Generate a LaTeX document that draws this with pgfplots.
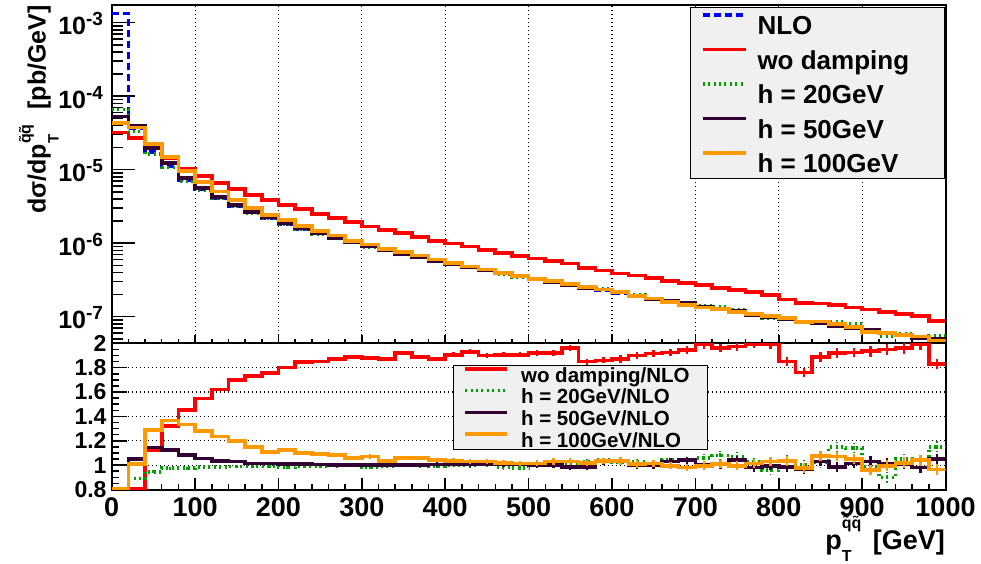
\documentclass[border=0pt]{standalone}
\usepackage{fontspec}
\setmainfont{Liberation Sans}
\usepackage{pgfplots}
\pgfplotsset{compat=1.18}
\usepackage{pgfplotstable}
\definecolor{rootred}{RGB}{255,0,0}
\definecolor{rootblue}{RGB}{0,0,255}
\definecolor{rootgreen}{RGB}{0,160,0}
\definecolor{rootpurple}{RGB}{51,0,51}
\definecolor{rootorange}{RGB}{255,153,0}
\definecolor{legbg}{RGB}{240,240,240}
\newcommand{\fs}[1]{\fontsize{#1}{#1}\selectfont\bfseries}
\newcommand{\ylog}[1]{10\raisebox{9pt}{\fs{19}-#1}}

\pgfplotstableread{
x nlo wo h20 h50 h100
0 1.34e-3 3.2e-5 6.6e-5 5.3e-5 4.3e-5
20 3.7e-5 2.7e-5 3.29e-5 3.9e-5 3.74e-5
40 1.74e-5 1.949e-5 1.644e-5 1.992e-5 2.245e-5
60 1.1e-5 1.452e-5 1.073e-5 1.238e-5 1.502e-5
80 7.15e-6 1.040e-5 6.97e-6 7.76e-6 9.55e-6
100 5.35e-6 8.28e-6 5.27e-6 5.64e-6 6.85e-6
120 4.1e-6 6.64e-6 4.04e-6 4.24e-6 5.06e-6
140 3.2e-6 5.44e-6 3.17e-6 3.30e-6 3.84e-6
160 2.62e-6 4.53e-6 2.59e-6 2.66e-6 3.01e-6
180 2.2e-6 3.86e-6 2.18e-6 2.23e-6 2.44e-6
200 1.83e-6 3.29e-6 1.80e-6 1.848e-6 2.06e-6
220 1.57e-6 2.90e-6 1.554e-6 1.586e-6 1.727e-6
240 1.35e-6 2.50e-6 1.337e-6 1.357e-6 1.472e-6
260 1.17e-6 2.19e-6 1.164e-6 1.17e-6 1.269e-6
280 1.02e-6 1.93e-6 1.02e-6 1.02e-6 1.081e-6
300 9.0e-7 1.69e-6 8.87e-7 9.0e-7 9.63e-7
320 8.0e-7 1.50e-6 7.92e-7 8.0e-7 8.28e-7
340 7.15e-7 1.373e-6 7.15e-7 7.15e-7 7.58e-7
360 6.4e-7 1.210e-6 6.37e-7 6.4e-7 6.78e-7
380 5.75e-7 1.075e-6 5.69e-7 5.78e-7 5.98e-7
400 5.2e-7 9.91e-7 5.2e-7 5.25e-7 5.38e-7
420 4.7e-7 9.07e-7 4.68e-7 4.72e-7 4.84e-7
440 4.25e-7 8.08e-7 4.27e-7 4.29e-7 4.38e-7
460 3.85e-7 7.33e-7 3.77e-7 3.87e-7 3.93e-7
480 3.52e-7 6.71e-7 3.43e-7 3.56e-7 3.57e-7
500 3.23e-7 6.20e-7 3.23e-7 3.23e-7 3.28e-7
520 2.96e-7 5.68e-7 3.00e-7 2.96e-7 3.05e-7
540 2.71e-7 5.31e-7 2.71e-7 2.67e-7 2.79e-7
560 2.48e-7 4.59e-7 2.55e-7 2.44e-7 2.53e-7
580 2.28e-7 4.24e-7 2.38e-7 2.35e-7 2.36e-7
600 2.08e-7 3.89e-7 2.13e-7 2.14e-7 2.15e-7
620 1.91e-7 3.63e-7 1.97e-7 1.91e-7 1.93e-7
640 1.75e-7 3.35e-7 1.75e-7 1.75e-7 1.776e-7
660 1.60e-7 3.08e-7 1.672e-7 1.648e-7 1.592e-7
680 1.47e-7 2.86e-7 1.536e-7 1.529e-7 1.441e-7
700 1.35e-7 2.69e-7 1.431e-7 1.35e-7 1.343e-7
720 1.25e-7 2.45e-7 1.35e-7 1.256e-7 1.263e-7
740 1.16e-7 2.29e-7 1.241e-7 1.206e-7 1.154e-7
760 1.08e-7 2.15e-7 1.107e-7 1.058e-7 1.096e-7
780 1.00e-7 1.99e-7 9.6e-8 9.95e-8 1.03e-7
800 9.33e-8 1.726e-7 9.70e-8 9.19e-8 9.66e-8
820 8.67e-8 1.526e-7 8.67e-8 8.37e-8 8.45e-8
840 8.05e-8 1.521e-7 8.21e-8 8.29e-8 8.65e-8
860 7.48e-8 1.436e-7 8.60e-8 7.37e-8 8.00e-8
880 6.95e-8 1.338e-7 7.92e-8 7.05e-8 7.30e-8
900 6.46e-8 1.250e-7 6.36e-8 6.65e-8 6.20e-8
920 6.0e-8 1.170e-7 5.4e-8 6.09e-8 5.97e-8
940 5.57e-8 1.092e-7 5.85e-8 5.63e-8 5.68e-8
960 5.18e-8 1.031e-7 5.39e-8 5.08e-8 5.39e-8
980 4.81e-8 8.80e-8 5.53e-8 5.05e-8 4.64e-8
1000 4.81e-8 8.80e-8 5.53e-8 5.05e-8 4.64e-8
}\upper

\pgfplotstableread{
x wo h20 h50 h100 e
0 0.805 0.803 0.803 0.805 0
20 0.805 0.89 1.05 1.01 0
40 1.12 0.945 1.145 1.29 0.012
60 1.32 0.975 1.125 1.365 0.012
80 1.455 0.975 1.085 1.335 0.012
100 1.547 0.985 1.055 1.28 0.012
120 1.62 0.985 1.035 1.235 0.012
140 1.70 0.99 1.03 1.20 0.012
160 1.73 0.99 1.015 1.15 0.012
180 1.755 0.99 1.015 1.11 0.012
200 1.80 0.985 1.01 1.125 0.015
220 1.845 0.99 1.01 1.10 0.015
240 1.85 0.99 1.005 1.09 0.015
260 1.87 0.995 1.0 1.085 0.015
280 1.89 1.0 1.0 1.06 0.015
300 1.88 0.985 1.0 1.07 0.018
320 1.87 0.99 1.0 1.035 0.018
340 1.92 1.0 1.0 1.06 0.018
360 1.89 0.995 1.0 1.06 0.018
380 1.87 0.99 1.005 1.04 0.018
400 1.905 1.0 1.01 1.035 0.02
420 1.93 0.995 1.005 1.03 0.02
440 1.90 1.005 1.01 1.03 0.02
460 1.905 0.98 1.005 1.02 0.02
480 1.905 0.975 1.01 1.015 0.02
500 1.92 1.0 1.0 1.015 0.025
520 1.92 1.015 1.0 1.03 0.025
540 1.96 1.0 0.985 1.03 0.025
560 1.85 1.03 0.985 1.02 0.025
580 1.86 1.045 1.03 1.035 0.025
600 1.87 1.025 1.03 1.035 0.03
620 1.90 1.03 1.0 1.01 0.03
640 1.915 1.0 1.0 1.015 0.03
660 1.925 1.045 1.03 0.995 0.03
680 1.945 1.045 1.04 0.98 0.03
700 1.99 1.06 1.0 0.995 0.035
720 1.96 1.08 1.005 1.01 0.035
740 1.975 1.07 1.04 0.995 0.035
760 1.995 1.025 0.98 1.015 0.035
780 1.99 0.96 0.995 1.03 0.035
800 1.85 1.04 0.985 1.035 0.04
820 1.76 1.0 0.965 0.975 0.04
840 1.89 1.02 1.03 1.075 0.04
860 1.92 1.15 0.985 1.07 0.04
880 1.925 1.14 1.015 1.05 0.04
900 1.935 0.985 1.03 0.96 0.045
920 1.95 0.90 1.015 0.995 0.045
940 1.96 1.05 1.01 1.02 0.045
960 1.99 1.04 0.98 1.04 0.045
980 1.83 1.15 1.05 0.965 0.045
1000 1.83 1.15 1.05 0.965 0.045
}\ratio

\begin{document}
\begin{tikzpicture}
\useasboundingbox (0pt,0pt) rectangle (981pt,563pt);
% ---------------- upper panel ----------------
\begin{axis}[
  at={(111.7pt,219.7pt)}, anchor=south west, scale only axis,
  width=833.8pt, height=338.3pt,
  xmin=0, xmax=1000, ymode=log, ymin=4.35e-8, ymax=1.74e-3,
  tick pos=left, tick align=inside,
  xtick={0,100,...,1000}, xticklabels={}, minor x tick num=4,
  ytick={1e-7,1e-6,1e-5,1e-4,1e-3},
  yticklabels={\ylog{7},\ylog{6},\ylog{5},\ylog{4},\ylog{3}},
  minor ytick={5e-8,6e-8,7e-8,8e-8,9e-8,2e-7,3e-7,4e-7,5e-7,6e-7,7e-7,8e-7,9e-7,2e-6,3e-6,4e-6,5e-6,6e-6,7e-6,8e-6,9e-6,2e-5,3e-5,4e-5,5e-5,6e-5,7e-5,8e-5,9e-5,2e-4,3e-4,4e-4,5e-4,6e-4,7e-4,8e-4,9e-4},
  xmajorgrids,
  major x grid style={black, line width=1.1pt, dash pattern=on 1.1pt off 2.9pt},
  axis line style={line width=2pt},
  xtick style={black, line width=1.5pt, /pgfplots/major tick length=8pt, /pgfplots/minor tick length=4pt},
  ytick style={black, line width=1.5pt, /pgfplots/major tick length=23pt, /pgfplots/minor tick length=11pt},
  yticklabel style={font=\fs{25}, inner sep=0pt, xshift=-8.5pt, yshift=-1.3pt},
  legend style={at={(0.9994,0.9941)}, anchor=north east, fill=legbg, draw=black, line width=1pt,
    inner xsep=10pt, inner ysep=5pt, row sep=11.5pt, column sep=10pt,
    nodes={inner sep=0pt, text height=22pt, text depth=1pt}, font=\fs{26}},
  legend cell align=left,
  legend image code/.code={\draw[#1] (0pt,9pt) -- (43pt,9pt);},
]
\addplot[const plot mark left, rootblue, line width=3.5pt, dash pattern=on 7pt off 4pt] table[x=x,y=nlo]{\upper};
\addlegendentry{\makebox[177pt][l]{NLO}}
\addplot[const plot mark left, rootred, line width=3.6pt] table[x=x,y=wo]{\upper};
\addlegendentry{\makebox[177pt][l]{wo damping}}
\addplot[const plot mark left, rootgreen, line width=3.4pt, dash pattern=on 2pt off 3.4pt] table[x=x,y=h20]{\upper};
\addlegendentry{\makebox[177pt][l]{h = 20GeV}}
\addplot[const plot mark left, rootpurple, line width=3.6pt] table[x=x,y=h50]{\upper};
\addlegendentry{\makebox[177pt][l]{h = 50GeV}}
\addplot[const plot mark left, rootorange, line width=3.6pt] table[x=x,y=h100]{\upper};
\addlegendentry{\makebox[177pt][l]{h = 100GeV}}
\end{axis}
% ---------------- lower panel ----------------
\begin{axis}[
  at={(111.7pt,73.5pt)}, anchor=south west, scale only axis,
  width=833.8pt, height=146.2pt,
  xmin=0, xmax=1000, ymin=0.8, ymax=2,
  tick pos=left, tick align=inside,
  xtick={0,100,...,1000}, minor x tick num=4,
  xticklabels={0,100,200,300,400,500,600,700,800,900,1000},
  ytick={0.8,1,1.2,1.4,1.6,1.8,2},
  yticklabels={0.8,1,1.2,1.4,1.6,1.8,2},
  minor y tick num=3,
  ymajorgrids,
  major y grid style={black, line width=1.1pt, dash pattern=on 1.1pt off 2.9pt},
  axis line style={line width=2pt},
  xtick style={black, line width=1.5pt, /pgfplots/major tick length=12pt, /pgfplots/minor tick length=6pt},
  ytick style={black, line width=1.5pt, /pgfplots/major tick length=15pt, /pgfplots/minor tick length=7pt},
  xticklabel style={font=\fs{27}, inner sep=0pt, yshift=-7.5pt},
  yticklabel style={font=\fs{23}, inner sep=0pt, xshift=-5pt},
  legend style={at={(0.4093,0.8516)}, anchor=north west, fill=legbg, draw=black, line width=1pt,
    inner xsep=10pt, inner ysep=1.5pt, row sep=5.7pt, column sep=12pt,
    nodes={inner sep=0pt, text height=15pt, text depth=1pt}, font=\fs{20.5}},
  legend cell align=left,
  legend image code/.code={\draw[#1] (0pt,6pt) -- (42pt,6pt);},
]
\addplot[const plot mark left, rootred, line width=3.6pt] table[x=x,y=wo]{\ratio};
\addlegendentry{\makebox[176pt][l]{wo damping/NLO}}
\addplot[const plot mark left, rootgreen, line width=3.4pt, dash pattern=on 2pt off 3.4pt] table[x=x,y=h20]{\ratio};
\addlegendentry{\makebox[176pt][l]{h = 20GeV/NLO}}
\addplot[const plot mark left, rootpurple, line width=3.6pt] table[x=x,y=h50]{\ratio};
\addlegendentry{\makebox[176pt][l]{h = 50GeV/NLO}}
\addplot[const plot mark left, rootorange, line width=3.6pt] table[x=x,y=h100]{\ratio};
\addlegendentry{\makebox[176pt][l]{h = 100GeV/NLO}}
% error bars at bin centres
\addplot[forget plot, draw=none, mark=none, error bars/.cd, y dir=both, y explicit,
  error bar style={draw=rootred, solid, line width=2.4pt}, error mark=none]
  table[x expr=\thisrow{x}+10, y=wo, y error=e, restrict x to domain=45:995]{\ratio};
\addplot[forget plot, draw=none, mark=none, error bars/.cd, y dir=both, y explicit,
  error bar style={draw=rootgreen, line width=1.8pt, dash pattern=on 2pt off 2pt}, error mark=none]
  table[x expr=\thisrow{x}+10, y=h20, y error=e, restrict x to domain=45:995]{\ratio};
\addplot[forget plot, draw=none, mark=none, error bars/.cd, y dir=both, y explicit,
  error bar style={draw=rootpurple, solid, line width=2.4pt}, error mark=none]
  table[x expr=\thisrow{x}+10, y=h50, y error=e, restrict x to domain=45:995]{\ratio};
\addplot[forget plot, draw=none, mark=none, error bars/.cd, y dir=both, y explicit,
  error bar style={draw=rootorange, solid, line width=2.4pt}, error mark=none]
  table[x expr=\thisrow{x}+10, y=h100, y error=e, restrict x to domain=45:995]{\ratio};
\end{axis}
% ---------------- axis titles ----------------
\node[rotate=90, anchor=base east, inner sep=0pt] at (45.5pt,558pt)
  {\fs{25}dσ/dp\rlap{\raisebox{-13pt}{\fs{15}T}}\raisebox{15pt}{\fs{16}\~q\~q}\hspace{8pt} [pb/GeV]};
\node[anchor=base east, inner sep=0pt] at (945pt,14pt)
  {\fs{27}p\rlap{\raisebox{-12pt}{\fs{16}T}}\raisebox{21pt}{\fs{16}\~q\~q}\hspace{4pt} [GeV]};
\end{tikzpicture}
\end{document}
